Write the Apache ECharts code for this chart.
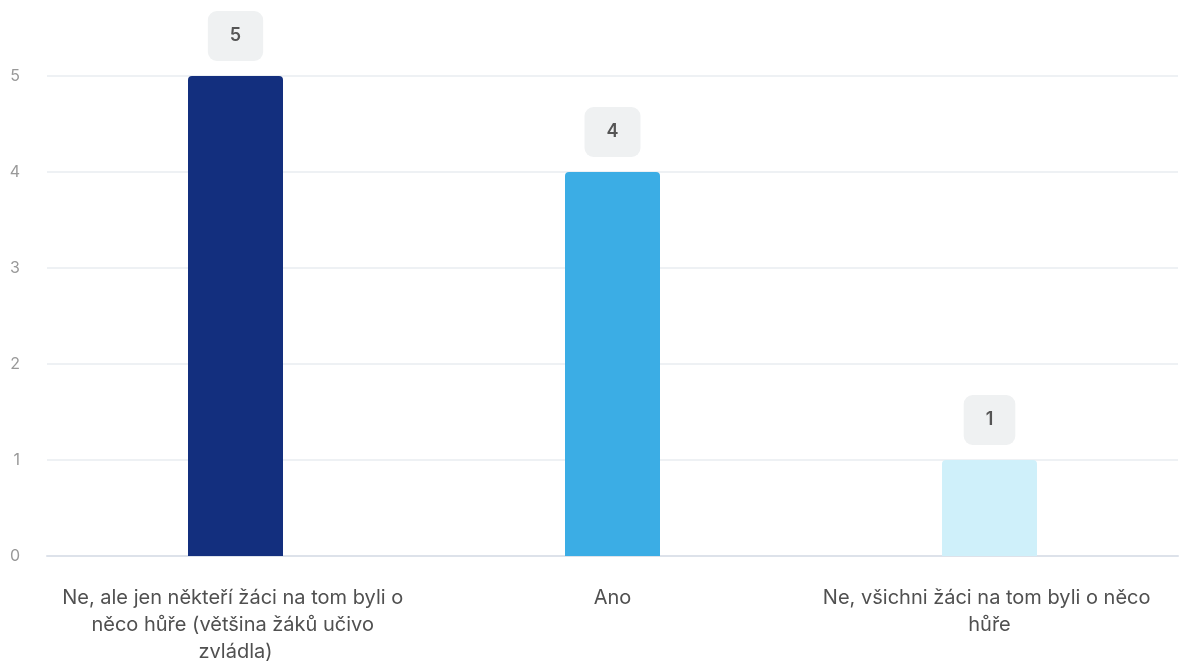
<!DOCTYPE html>
<html><head><meta charset="utf-8">
<script src="https://cdn.jsdelivr.net/npm/echarts@6/dist/echarts.min.js"></script>
<style>html,body{margin:0;padding:0;background:#fff}#c{width:1179px;height:661px}</style>
</head><body><div id="c"></div>
<script>
const categories = [
  "Ne, ale jen někteří žáci na tom byli o něco hůře (většina žáků učivo zvládla)",
  "Ano",
  "Ne, všichni žáci na tom byli o něco hůře"
];
const values = [5, 4, 1];
const barColors = ["#132f7e", "#3badE5", "#cff0fa"];
const yTicks = [0, 1, 2, 3, 4, 5];

const chart = echarts.init(document.getElementById('c'));
chart.setOption({
  animation: false,
  textStyle: { fontFamily: 'Inter' },
  grid: { left: 47, right: 1, top: 76, bottom: 105, outerBoundsMode: 'none', containLabel: false },
  xAxis: {
    type: 'category',
    data: categories,
    axisTick: { show: false },
    axisLine: { lineStyle: { color: '#dde2ea', width: 2 } },
    axisLabel: {
      interval: 0, margin: 28, width: 420, overflow: 'break',
      fontSize: 20, lineHeight: 27, color: '#505050', fontFamily: 'Inter'
    }
  },
  yAxis: {
    type: 'value', min: yTicks[0], max: yTicks[yTicks.length - 1], interval: 1,
    axisLine: { show: false }, axisTick: { show: false },
    splitLine: { lineStyle: { color: '#e9ecf0', width: 1.5 } },
    axisLabel: { margin: 27, fontSize: 16, color: '#999', fontFamily: 'Inter' }
  },
  series: [{
    type: 'bar',
    barWidth: 95,
    data: values.map((v, i) => ({ value: v, itemStyle: { color: barColors[i] } })),
    itemStyle: { borderRadius: [4, 4, 0, 0] },
    label: {
      show: true, position: 'top', distance: 15,
      fontSize: 18, fontWeight: 600, color: '#555',
      backgroundColor: '#eff1f2', borderRadius: 9,
      padding: [16, 22, 16, 22], fontFamily: 'Inter'
    }
  }]
});
</script></body></html>
